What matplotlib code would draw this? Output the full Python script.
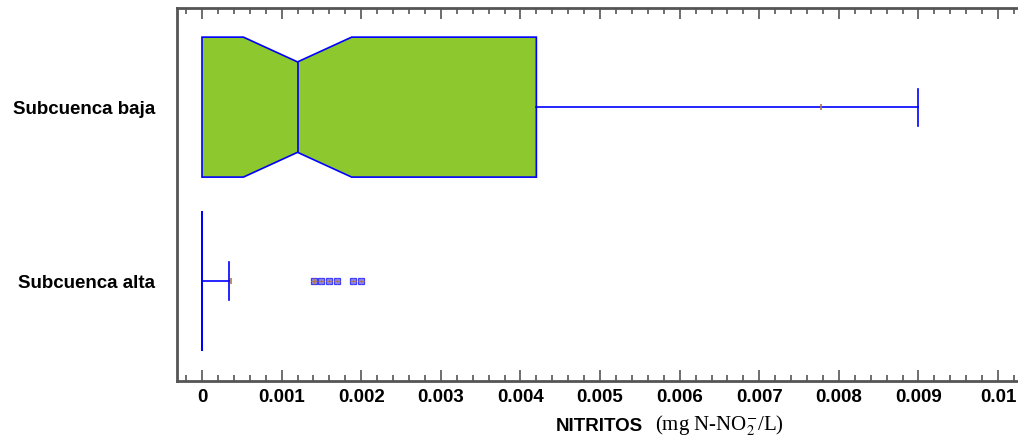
import matplotlib
matplotlib.use("Agg")
import matplotlib.pyplot as plt
from matplotlib.patches import Polygon
from matplotlib.ticker import MultipleLocator, FuncFormatter

# Summary statistics of nitrite concentration per sub-basin (mg N-NO2/L)
groups = ["Subcuenca alta", "Subcuenca baja"]
q1 = [0.0, 0.0]
medians = [0.0, 0.0012]
q3 = [0.0, 0.0042]
notch_lo = [0.0, 0.00052]
notch_hi = [0.0, 0.00188]
whisker_lo = [0.0, 0.0]
whisker_hi = [0.00034, 0.009]
means = [0.00037, 0.00778]
outliers = [[0.00141, 0.00150, 0.00160, 0.00170, 0.00190, 0.00200], []]

x_ticks = [0, 0.001, 0.002, 0.003, 0.004, 0.005, 0.006, 0.007, 0.008, 0.009, 0.01]

BOX_FILL = "#8cc82e"
EDGE = "#0000ff"
MEAN_C = "#b07850"
SPINE = "#555555"

fig = plt.figure(figsize=(10.18, 4.4), dpi=100)
W, H = 1018, 440
left, right, top, bottom = 177, 1018, 8, 381
ax = fig.add_axes([left / W, 1 - bottom / H, (right - left) / W, (bottom - top) / H])

positions = [1, 2]
box_w = 0.805
notch_w = 0.52
cap_w = 0.213

for pos, a, m, b, nl, nh, wl, wh, mu, fl in zip(positions, q1, medians, q3, notch_lo,
                                               notch_hi, whisker_lo, whisker_hi, means, outliers):
    hb = box_w / 2
    hn = notch_w / 2
    hc = cap_w / 2
    verts = [(a, pos - hb), (nl, pos - hb), (m, pos - hn), (nh, pos - hb), (b, pos - hb),
             (b, pos + hb), (nh, pos + hb), (m, pos + hn), (nl, pos + hb), (a, pos + hb)]
    ax.add_patch(Polygon(verts, closed=True, facecolor=BOX_FILL, edgecolor=EDGE,
                         linewidth=1.2, zorder=2))
    ax.plot([m, m], [pos - hn, pos + hn], color=EDGE, lw=1.2, zorder=3)
    # whiskers and caps
    if wh > b:
        ax.plot([b, wh], [pos, pos], color=EDGE, lw=1.2, zorder=3)
        ax.plot([wh, wh], [pos - hc, pos + hc], color=EDGE, lw=1.2, zorder=3)
    if wl < a:
        ax.plot([wl, a], [pos, pos], color=EDGE, lw=1.2, zorder=3)
        ax.plot([wl, wl], [pos - hc, pos + hc], color=EDGE, lw=1.2, zorder=3)
    # mean marker
    ax.plot([mu], [pos], marker="|", color=MEAN_C, markersize=5, mew=1.2, zorder=4)
    # outliers
    if fl:
        ax.plot(fl, [pos] * len(fl), ls="none", marker="s", markersize=4.3,
                markerfacecolor="#9090ff", markeredgecolor="#3c3cff", mew=0.9, zorder=4)
        ax.plot(fl, [pos] * len(fl), ls="none", marker="+", markersize=4,
                color=MEAN_C, mew=0.9, zorder=5)

ax.set_xlim(-0.000314, 0.01025)
ax.set_ylim(0.425, 2.57)

ax.set_yticks(positions)
ax.set_yticklabels(groups, fontfamily="Liberation Sans", fontweight="bold", fontsize=13.5)
ax.tick_params(axis="y", length=0, pad=15.5)

ax.set_xticks(x_ticks)
ax.xaxis.set_minor_locator(MultipleLocator(0.0002))
ax.xaxis.set_major_formatter(FuncFormatter(lambda v, p: ("%.3f" % v).rstrip("0").rstrip(".") if v else "0"))
for lab in ax.get_xticklabels():
    lab.set_fontfamily("Liberation Sans")
    lab.set_fontweight("bold")
    lab.set_fontsize(13.5)
ax.tick_params(axis="x", which="major", direction="in", length=8, width=1.2,
               color=SPINE, top=True, bottom=True, pad=6)
ax.tick_params(axis="x", which="minor", direction="in", length=4, width=1.2,
               color=SPINE, top=True, bottom=True)

for side in ["left", "bottom", "top"]:
    ax.spines[side].set_color(SPINE)
    ax.spines[side].set_linewidth(2)
ax.spines["right"].set_visible(False)

fig.text(556 / W, 1 - 431 / H, "NITRITOS", fontfamily="Liberation Sans", fontweight="bold",
         fontsize=13.5, ha="left", va="baseline")
fig.text(655 / W, 1 - 431 / H, r"(mg N-NO$_{2}^{-}$/L)", fontfamily="Liberation Serif",
         fontsize=15, ha="left", va="baseline", math_fontfamily="stix")

fig.savefig("out.png", dpi=100)
